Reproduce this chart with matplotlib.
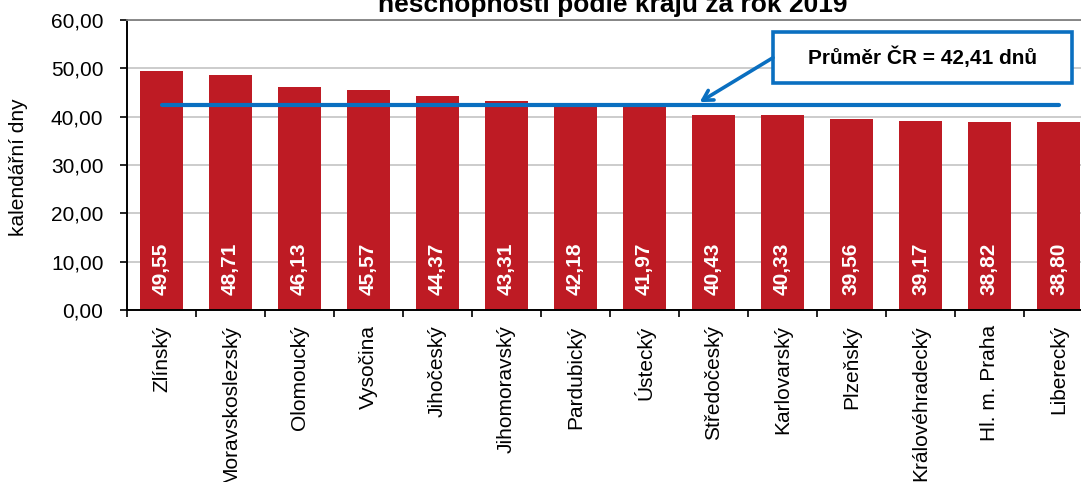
import numpy as np
import matplotlib
matplotlib.use("Agg")
import matplotlib.pyplot as plt
from matplotlib.patches import Rectangle
from matplotlib.ticker import FuncFormatter, FixedLocator

plt.rcParams['font.family'] = ['Liberation Sans', 'DejaVu Sans']

# data
regions = ['Zlínský', 'Moravskoslezský', 'Olomoucký', 'Vysočina', 'Jihočeský',
           'Jihomoravský', 'Pardubický', 'Ústecký', 'Středočeský', 'Karlovarský',
           'Plzeňský', 'Královéhradecký', 'Hl. m. Praha', 'Liberecký']
days = [49.55, 48.71, 46.13, 45.57, 44.37, 43.31, 42.18, 41.97, 40.43, 40.33,
        39.56, 39.17, 38.82, 38.80]
avg_cr = 42.41

title_line = 'neschopnosti podle krajů za rok 2019'
ylabel = 'kalendářní dny'

red = '#BE1B24'
blue = '#0A6FC0'

W, H = 1081, 482
fig = plt.figure(figsize=(W / 100, H / 100), dpi=100)
ax = fig.add_axes([127 / W, 172 / H, 966 / W, 290 / H])

x = np.arange(len(regions))
ax.bar(x, days, width=0.63, color=red, zorder=2)

# value labels inside bars
for xi, v in zip(x, days):
    ax.text(xi, 3.1, f'{v:.2f}'.replace('.', ','), rotation=90, ha='center',
            va='bottom', color='white', fontsize=15, fontweight='bold', zorder=3)

# average line
ax.plot([x[0], x[-1]], [avg_cr, avg_cr], color=blue, lw=3, zorder=4,
        solid_capstyle='round')

ax.set_xlim(-0.5, len(regions) - 0.5)
ax.set_ylim(0, 60)
ax.set_yticks(np.arange(0, 61, 10))
ax.yaxis.set_major_formatter(FuncFormatter(lambda v, p: f'{v:.2f}'.replace('.', ',')))
ax.tick_params(axis='y', labelsize=15, length=5, width=1.2, pad=12)

ax.set_xticks(x)
ax.set_xticklabels(regions, rotation=90, ha='center', va='top', fontsize=15)
ax.tick_params(axis='x', which='major', length=0, pad=11)
ax.xaxis.set_minor_locator(FixedLocator(np.arange(-0.5, len(regions), 1.0)))
ax.tick_params(axis='x', which='minor', length=5, width=1.2)

ax.grid(axis='y', color='#C8C8C8', lw=1.3, zorder=0)
ax.set_axisbelow(True)
for s in ['left', 'bottom']:
    ax.spines[s].set_linewidth(1.4)
    ax.spines[s].set_color('black')
ax.spines['top'].set_color('#808080')
ax.spines['top'].set_linewidth(1.3)
ax.spines['right'].set_visible(False)

ax.set_ylabel(ylabel, fontsize=15)
ax.yaxis.set_label_coords(-0.1025, 0.493)

# annotation box with arrow
box = Rectangle((8.862, 46.97), 4.334, 10.55, fill=True, facecolor='white',
                edgecolor=blue, lw=2.6, zorder=5)
ax.add_patch(box)
ax.text(8.862 + 4.334 / 2, 46.97 + 10.55 / 2, f'Průměr ČR = {avg_cr:.2f}'.replace('.', ',') + ' dnů',
        ha='center', va='center', fontsize=15, fontweight='bold', zorder=6)
ax.annotate('', xy=(7.80, avg_cr + 0.6), xytext=(8.862, 52.2),
            arrowprops=dict(arrowstyle='->,head_length=0.7,head_width=0.4',
                            color=blue, lw=2.6, shrinkA=0, shrinkB=0), zorder=6)

# title: only the lower part of the second line is visible in the reference
fig.text((378 + 848) / 2 / W, (H - 12) / H, title_line, ha='center', va='baseline',
         fontsize=19, fontweight='bold')

fig.savefig('out.png', dpi=100)
